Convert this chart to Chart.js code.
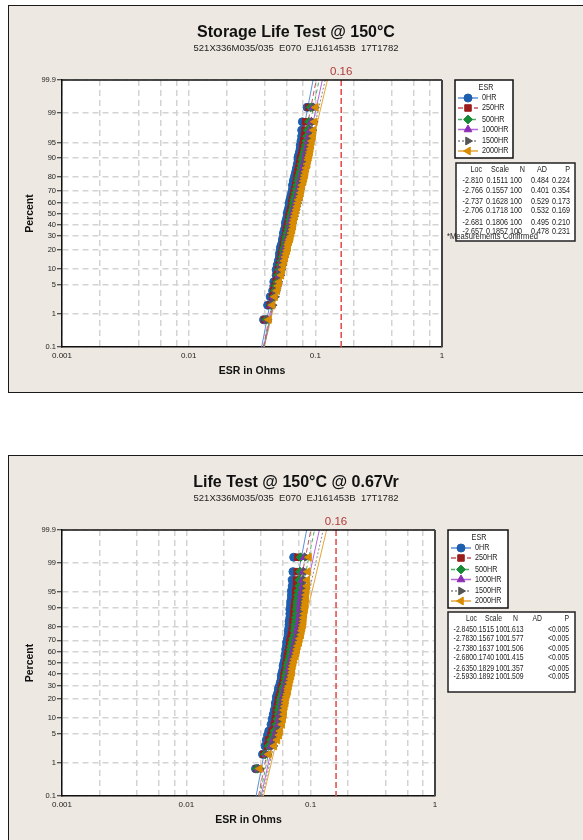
<!DOCTYPE html>
<html>
<head>
<meta charset="utf-8">
<script src="https://cdn.jsdelivr.net/npm/chart.js@4.4.1/dist/chart.umd.min.js"></script>
<style>
  html, body { margin: 0; padding: 0; background: #fff; width: 583px; height: 840px; overflow: hidden; }
  .panel { position: absolute; left: 8px; width: 600px; background: #ede9e2; border: 1px solid #1a1a1a; }
  #p1 { top: 5px; height: 386px; }
  #p2 { top: 455px; height: 400px; }
  .panel canvas { position: absolute; left: 0; top: 0; }
</style>
</head>
<body>
<div class="panel" id="p1"><canvas id="c1" width="574" height="386"></canvas></div>
<div class="panel" id="p2"><canvas id="c2" width="574" height="384"></canvas></div>
<script>
// ---- data ----
const SERIES = ["0HR", "250HR", "500HR", "1000HR", "1500HR", "2000HR"];
// plotting positions (percent) of the plotted ranks
const PERCENT = [0.70, 1.69, 2.69, 3.69, 4.68, 5.68, 7.67, 9.66, 11.65, 13.65,
                 15.64, 17.63, 19.62, 21.61, 23.61, 25.60, 27.59, 29.58, 32.57, 35.56,
                 38.55, 41.53, 44.52, 47.51, 50.50, 53.49, 56.47, 59.46, 62.45, 65.44,
                 68.43, 71.41, 74.40, 77.39, 79.38, 81.37, 83.37, 85.36, 87.35, 89.34,
                 90.34, 91.33, 92.33, 93.33, 94.32, 95.32, 96.31, 97.31, 98.31, 99.30];
const PCT_TICKS = [0.1, 1, 5, 10, 20, 30, 40, 50, 60, 70, 80, 90, 95, 99, 99.9];
const X_TICKS = [0.001, 0.002, 0.004, 0.006, 0.008, 0.01, 0.02, 0.04, 0.06, 0.08,
                 0.1, 0.2, 0.4, 0.6, 0.8, 1];
const X_LABELS = { 0.001: "0.001", 0.01: "0.01", 0.1: "0.1", 1: "1" };
const FIT_PCT = [0.1, 99.9];
const LIMIT = 0.16;
const SUBTITLE = "521X336M035/035  E070  EJ161453B  17T1782";

// Storage Life Test @ 150°C
const esr1_0    = [0.039,0.042,0.044,0.046,0.047,0.047,0.049,0.049,0.050,0.051,0.052,0.052,0.053,0.053,0.054,0.055,0.055,0.056,0.056,0.057,0.058,0.058,0.059,0.060,0.060,0.061,0.062,0.062,0.063,0.064,0.065,0.066,0.066,0.067,0.068,0.069,0.070,0.071,0.072,0.073,0.073,0.074,0.075,0.076,0.076,0.077,0.078,0.078,0.079,0.086];
const esr1_250  = [0.040,0.044,0.046,0.047,0.048,0.049,0.050,0.051,0.052,0.053,0.054,0.054,0.055,0.056,0.056,0.057,0.057,0.058,0.059,0.059,0.060,0.061,0.062,0.062,0.063,0.064,0.065,0.065,0.066,0.067,0.068,0.069,0.070,0.071,0.072,0.072,0.073,0.074,0.075,0.076,0.077,0.078,0.079,0.080,0.080,0.081,0.082,0.083,0.084,0.089];
const esr1_500  = [0.041,0.045,0.047,0.048,0.049,0.050,0.051,0.052,0.053,0.054,0.055,0.056,0.056,0.057,0.058,0.058,0.059,0.059,0.060,0.061,0.062,0.063,0.063,0.064,0.065,0.066,0.067,0.067,0.068,0.069,0.070,0.071,0.072,0.073,0.074,0.075,0.076,0.077,0.078,0.079,0.080,0.081,0.082,0.083,0.084,0.085,0.086,0.087,0.089,0.092];
const esr1_1000 = [0.042,0.045,0.047,0.049,0.050,0.051,0.052,0.053,0.054,0.055,0.056,0.057,0.058,0.058,0.059,0.060,0.060,0.061,0.062,0.063,0.064,0.064,0.065,0.066,0.067,0.068,0.069,0.070,0.071,0.072,0.073,0.074,0.075,0.076,0.077,0.078,0.079,0.080,0.081,0.083,0.084,0.084,0.085,0.086,0.087,0.088,0.089,0.091,0.093,0.096];
const esr1_1500 = [0.042,0.046,0.048,0.049,0.050,0.051,0.053,0.054,0.055,0.056,0.057,0.058,0.059,0.059,0.060,0.061,0.061,0.062,0.063,0.064,0.065,0.066,0.067,0.068,0.069,0.070,0.071,0.072,0.073,0.074,0.075,0.076,0.077,0.078,0.079,0.080,0.082,0.083,0.084,0.085,0.086,0.087,0.088,0.089,0.090,0.091,0.093,0.095,0.097,0.099];
const esr1_2000 = [0.043,0.046,0.048,0.050,0.051,0.052,0.054,0.055,0.056,0.057,0.058,0.059,0.060,0.061,0.061,0.062,0.063,0.064,0.065,0.066,0.067,0.067,0.068,0.069,0.070,0.071,0.072,0.073,0.074,0.076,0.077,0.078,0.079,0.081,0.082,0.083,0.084,0.085,0.087,0.088,0.089,0.090,0.091,0.092,0.093,0.094,0.096,0.097,0.099,0.101];
const fitLow1  = [0.0377, 0.0389, 0.0392, 0.0393, 0.0392, 0.0395];
const fitHigh1 = [0.0960, 0.1017, 0.1071, 0.1136, 0.1197, 0.1246];
const loc1   = [-2.810, -2.766, -2.737, -2.706, -2.681, -2.657];
const scale1 = [0.1511, 0.1557, 0.1628, 0.1718, 0.1806, 0.1857];
const n1     = [100, 100, 100, 100, 100, 100];
const ad1    = [0.484, 0.401, 0.529, 0.532, 0.495, 0.478];
const pval1  = ["0.224", "0.354", "0.173", "0.169", "0.210", "0.231"];

// Life Test @ 150°C @ 0.67Vr
const esr2_0    = [0.036,0.041,0.043,0.044,0.045,0.046,0.048,0.049,0.050,0.051,0.052,0.052,0.053,0.053,0.054,0.055,0.055,0.056,0.057,0.058,0.058,0.059,0.060,0.060,0.061,0.062,0.062,0.063,0.063,0.064,0.064,0.065,0.066,0.066,0.067,0.067,0.067,0.068,0.068,0.068,0.069,0.069,0.069,0.070,0.070,0.070,0.071,0.071,0.072,0.073];
const esr2_250  = [0.037,0.042,0.045,0.046,0.048,0.049,0.051,0.052,0.053,0.053,0.054,0.055,0.055,0.056,0.057,0.058,0.058,0.059,0.060,0.061,0.061,0.062,0.063,0.063,0.064,0.065,0.065,0.066,0.067,0.068,0.068,0.069,0.070,0.071,0.072,0.072,0.072,0.073,0.073,0.074,0.074,0.075,0.075,0.076,0.076,0.076,0.077,0.077,0.078,0.079];
const esr2_500  = [0.037,0.043,0.046,0.048,0.050,0.051,0.053,0.054,0.055,0.055,0.056,0.057,0.057,0.058,0.059,0.060,0.060,0.061,0.062,0.063,0.063,0.064,0.065,0.065,0.066,0.067,0.068,0.069,0.069,0.070,0.071,0.072,0.074,0.074,0.075,0.075,0.076,0.076,0.077,0.077,0.078,0.078,0.078,0.079,0.079,0.080,0.081,0.081,0.082,0.083];
const esr2_1000 = [0.038,0.044,0.048,0.050,0.052,0.053,0.055,0.056,0.057,0.058,0.059,0.059,0.060,0.060,0.061,0.062,0.062,0.063,0.064,0.065,0.066,0.067,0.067,0.068,0.069,0.070,0.071,0.072,0.073,0.074,0.075,0.076,0.078,0.078,0.079,0.080,0.081,0.081,0.082,0.082,0.083,0.083,0.083,0.084,0.084,0.085,0.086,0.086,0.087,0.089];
const esr2_1500 = [0.039,0.045,0.050,0.052,0.054,0.055,0.057,0.058,0.059,0.059,0.060,0.061,0.061,0.062,0.063,0.064,0.064,0.065,0.066,0.067,0.068,0.069,0.069,0.070,0.071,0.072,0.074,0.075,0.075,0.076,0.078,0.079,0.081,0.082,0.083,0.084,0.084,0.085,0.085,0.086,0.086,0.087,0.087,0.088,0.088,0.089,0.090,0.090,0.091,0.093];
const esr2_2000 = [0.039,0.046,0.051,0.054,0.056,0.057,0.059,0.060,0.061,0.061,0.062,0.063,0.063,0.064,0.065,0.066,0.066,0.067,0.068,0.069,0.070,0.071,0.071,0.072,0.073,0.074,0.076,0.077,0.078,0.079,0.081,0.082,0.084,0.085,0.086,0.087,0.088,0.088,0.089,0.090,0.090,0.091,0.091,0.092,0.092,0.093,0.094,0.094,0.095,0.097];
const fitLow2  = [0.0364, 0.0381, 0.0390, 0.0400, 0.0408, 0.0417];
const fitHigh2 = [0.0928, 0.1003, 0.1073, 0.1174, 0.1262, 0.1343];
const loc2   = [-2.845, -2.783, -2.738, -2.680, -2.635, -2.593];
const scale2 = [0.1515, 0.1567, 0.1637, 0.1740, 0.1829, 0.1892];
const n2     = [100, 100, 100, 100, 100, 100];
const ad2    = [1.613, 1.577, 1.506, 1.415, 1.357, 1.509];
const pval2  = ["<0.005", "<0.005", "<0.005", "<0.005", "<0.005", "<0.005"];

// ---- styles ----
const STYLE = [
  { color: "#1d5fae", line: "#5b91d4", shape: "circle",   rot: 0,   r: 4,   dash: [] },
  { color: "#9c1c1c", line: "#c4545a", shape: "rect",     rot: 0,   r: 4.6, dash: [5, 3] },
  { color: "#178a35", line: "#4cae62", shape: "rectRot",  rot: 0,   r: 4.4, dash: [4, 3] },
  { color: "#8a2db5", line: "#b566d6", shape: "triangle", rot: 0,   r: 4.5, dash: [] },
  { color: "#555555", line: "#8a8a8a", shape: "triangle", rot: 90,  r: 4.5, dash: [2, 2] },
  { color: "#d98c00", line: "#e6a43a", shape: "triangle", rot: -90, r: 4.5, dash: [] }
];
const SANS = '"Liberation Sans", sans-serif';
Chart.defaults.font.family = SANS;
Chart.defaults.color = "#222";

// inverse normal CDF (probability axis)
function probit(p) {
  const a = [-3.969683028665376e+01, 2.209460984245205e+02, -2.759285104469687e+02, 1.383577518672690e+02, -3.066479806614716e+01, 2.506628277459239e+00];
  const b = [-5.447609879822406e+01, 1.615858368580409e+02, -1.556989798598866e+02, 6.680131188771972e+01, -1.328068155288572e+01];
  const c = [-7.784894002430293e-03, -3.223964580411365e-01, -2.400758277161838e+00, -2.549671348021838e+00, 4.374664141464968e+00, 2.938163982698783e+00];
  const d = [7.784695709041462e-03, 3.224671290700398e-01, 2.445134137142996e+00, 3.754408661907416e+00];
  const pl = 0.02425;
  let q, r;
  if (p < pl) {
    q = Math.sqrt(-2 * Math.log(p));
    return (((((c[0]*q+c[1])*q+c[2])*q+c[3])*q+c[4])*q+c[5]) / ((((d[0]*q+d[1])*q+d[2])*q+d[3])*q+1);
  }
  if (p > 1 - pl) {
    q = Math.sqrt(-2 * Math.log(1 - p));
    return -(((((c[0]*q+c[1])*q+c[2])*q+c[3])*q+c[4])*q+c[5]) / ((((d[0]*q+d[1])*q+d[2])*q+d[3])*q+1);
  }
  q = p - 0.5; r = q * q;
  return (((((a[0]*r+a[1])*r+a[2])*r+a[3])*r+a[4])*r+a[5])*q / (((((b[0]*r+b[1])*r+b[2])*r+b[3])*r+b[4])*r+1);
}
const Y_MIN = probit(0.001), Y_MAX = probit(0.999);

function buildDatasets(esr, fitLow, fitHigh) {
  const ds = [];
  SERIES.forEach((name, i) => {
    ds.push({
      label: name + " fit", showLine: true, pointRadius: 0, order: 20,
      data: [{ x: fitLow[i], y: probit(FIT_PCT[0] / 100) }, { x: fitHigh[i], y: probit(FIT_PCT[1] / 100) }],
      borderColor: STYLE[i].line, borderWidth: 1, borderDash: STYLE[i].dash
    });
  });
  SERIES.forEach((name, i) => {
    ds.push({
      label: name, order: 6 - i,
      data: esr[i].map((v, k) => ({ x: v, y: probit(PERCENT[k] / 100) })),
      pointStyle: STYLE[i].shape, pointRotation: STYLE[i].rot, pointRadius: STYLE[i].r,
      backgroundColor: STYLE[i].color, borderColor: STYLE[i].color, borderWidth: 1
    });
  });
  return ds;
}

// condensed text (the original uses a narrow UI font)
function narrow(ctx, t, x, y, k) {
  ctx.fillText(t, x, y, ctx.measureText(t).width * (k || 0.8));
}

function drawLegend(ctx, box) {
  const rows = [18, 28, 39.5, 49.5, 61, 71];
  ctx.save();
  ctx.fillStyle = "#fff"; ctx.fillRect(box.x, box.y, box.w, box.h);
  ctx.strokeStyle = "#111"; ctx.lineWidth = 1.5; ctx.strokeRect(box.x, box.y, box.w, box.h);
  ctx.font = "9px " + SANS; ctx.textBaseline = "middle";
  ctx.fillStyle = "#222"; ctx.textAlign = "center";
  narrow(ctx, "ESR", box.x + 31, box.y + 8);
  ctx.textAlign = "left";
  SERIES.forEach((name, i) => {
    const st = STYLE[i], y = box.y + rows[i];
    ctx.strokeStyle = st.line; ctx.lineWidth = 1.5; ctx.setLineDash(st.dash);
    ctx.beginPath(); ctx.moveTo(box.x + 3, y); ctx.lineTo(box.x + 23, y); ctx.stroke();
    ctx.setLineDash([]);
    ctx.fillStyle = st.color; ctx.strokeStyle = st.color; ctx.lineWidth = 1;
    Chart.helpers.drawPoint(ctx, { pointStyle: st.shape, radius: st.r, rotation: st.rot, borderWidth: 1 }, box.x + 13, y);
    ctx.fillStyle = "#222";
    narrow(ctx, name, box.x + 27, y);
  });
  ctx.restore();
}

function drawStats(ctx, box, cols, st, k) {
  ctx.save();
  ctx.fillStyle = "#fff"; ctx.fillRect(box.x, box.y, box.w, box.h);
  ctx.strokeStyle = "#222"; ctx.lineWidth = 1.5; ctx.strokeRect(box.x, box.y, box.w, box.h);
  ctx.font = "9px " + SANS; ctx.textBaseline = "middle"; ctx.textAlign = "right";
  ctx.fillStyle = "#222";
  ["Loc", "Scale", "N", "AD", "P"].forEach((h, j) => narrow(ctx, h, box.x + cols.head[j], box.y + 7, k));
  SERIES.forEach((_, i) => {
    const cells = [st.loc[i].toFixed(3), st.scale[i].toFixed(4), String(st.n[i]), st.ad[i].toFixed(3), st.p[i]];
    cells.forEach((t, j) => narrow(ctx, t, box.x + cols.val[j], box.y + cols.rows[i], k));
  });
  ctx.restore();
}

function overlay(o) {
  return {
    id: "overlay",
    beforeDraw(chart) {
      const { ctx, chartArea: a } = chart;
      ctx.save(); ctx.fillStyle = "#fff";
      ctx.fillRect(a.left, a.top, a.right - a.left, a.bottom - a.top);
      ctx.restore();
    },
    afterDatasetsDraw(chart) {
      const { ctx, chartArea: a, scales: { x } } = chart;
      const px = x.getPixelForValue(LIMIT);
      ctx.save();
      ctx.strokeStyle = "#e04848"; ctx.lineWidth = 1.5; ctx.setLineDash([6, 3]);
      ctx.beginPath(); ctx.moveTo(px, a.top); ctx.lineTo(px, a.bottom); ctx.stroke();
      ctx.setLineDash([]);
      ctx.fillStyle = "#b03a38"; ctx.font = "11.5px " + SANS;
      ctx.textAlign = "center"; ctx.textBaseline = "middle";
      ctx.fillText(String(LIMIT), px, a.top - 8);
      ctx.strokeStyle = "#111"; ctx.lineWidth = 1.5;
      ctx.beginPath(); ctx.moveTo(a.left, a.top); ctx.lineTo(a.right, a.top); ctx.stroke();
      ctx.strokeStyle = "#444"; ctx.lineWidth = 2;
      ctx.beginPath(); ctx.moveTo(a.right, a.top); ctx.lineTo(a.right, a.bottom); ctx.stroke();
      ctx.restore();
    },
    afterDraw(chart) {
      const ctx = chart.ctx;
      drawLegend(ctx, o.legendBox);
      drawStats(ctx, o.statsBox, o.cols, o.stats, o.squeeze);
      if (o.note) {
        ctx.save();
        ctx.font = "9px " + SANS; ctx.fillStyle = "#222";
        ctx.textAlign = "left"; ctx.textBaseline = "middle";
        narrow(ctx, o.note, o.noteX, o.noteY, 0.85);
        ctx.restore();
      }
    }
  };
}

function makeChart(id, o) {
  return new Chart(document.getElementById(id), {
    type: "scatter",
    data: { datasets: buildDatasets(o.esr, o.fitLow, o.fitHigh) },
    options: {
      responsive: false, animation: false, events: [],
      layout: { padding: 0 },
      plugins: {
        legend: { display: false },
        tooltip: { enabled: false },
        title: {
          display: true, text: o.title, color: "#111",
          font: { size: 16, weight: "bold", lineHeight: 1 },
          padding: { top: 19, bottom: 0 }
        },
        subtitle: {
          display: true, text: SUBTITLE, color: "#222",
          font: { size: 9.5, lineHeight: 1 },
          padding: { top: 2.5, bottom: 27 }
        }
      },
      scales: {
        x: {
          type: "logarithmic", min: 0.001, max: 1,
          afterBuildTicks: (s) => { s.ticks = X_TICKS.map(v => ({ value: v })); },
          afterFit: (s) => { s.height = o.xHeight; },
          ticks: {
            autoSkip: false, maxRotation: 0, padding: 4, color: "#222",
            font: { size: 8 },
            callback: (v) => X_LABELS[v] || ""
          },
          grid: { color: "#d3d3d3", lineWidth: 1.5, drawTicks: false },
          border: { display: true, color: "#111", width: 1.5, dash: [6, 4] },
          title: {
            display: true, text: "ESR in Ohms", color: "#111",
            font: { size: 10.5, weight: "bold" },
            padding: { top: 0, bottom: o.xTitlePad }
          }
        },
        y: {
          type: "linear", min: Y_MIN, max: Y_MAX,
          afterBuildTicks: (s) => { s.ticks = PCT_TICKS.map(p => ({ value: probit(p / 100) })); },
          afterFit: (s) => { s.width = 53; },
          ticks: {
            autoSkip: false, padding: 1, color: "#222",
            font: { size: 7.5 },
            callback: (v, i) => String(PCT_TICKS[i])
          },
          grid: { color: "#d3d3d3", lineWidth: 1.5, tickLength: 5, tickWidth: 1, tickColor: "#222" },
          border: { display: true, color: "#111", width: 1.5, dash: [6, 4] },
          title: {
            display: true, text: "Percent", color: "#111",
            font: { size: 10.5, weight: "bold" },
            padding: { top: 14.7, bottom: 0 }
          }
        },
        spacer: {
          type: "linear", position: "right", display: true,
          ticks: { display: false }, grid: { display: false }, border: { display: false },
          afterFit: (s) => { s.width = o.rightSpace; }
        }
      }
    },
    plugins: [overlay(o)]
  });
}

makeChart("c1", {
  title: "Storage Life Test @ 150°C",
  esr: [esr1_0, esr1_250, esr1_500, esr1_1000, esr1_1500, esr1_2000],
  fitLow: fitLow1, fitHigh: fitHigh1,
  xHeight: 45, xTitlePad: 14.7, rightSpace: 141,
  legendBox: { x: 446, y: 74, w: 58, h: 78 },
  statsBox: { x: 447, y: 157, w: 119, h: 78 },
  cols: { head: [26, 53, 69, 91, 114], val: [27, 52, 66, 93, 114], rows: [18, 28, 39, 48, 60, 69] },
  squeeze: 0.8,
  stats: { loc: loc1, scale: scale1, n: n1, ad: ad1, p: pval1 },
  note: "*Measurements Confirmed", noteX: 438, noteY: 231
});

makeChart("c2", {
  title: "Life Test @ 150°C @ 0.67Vr",
  esr: [esr2_0, esr2_250, esr2_500, esr2_1000, esr2_1500, esr2_2000],
  fitLow: fitLow2, fitHigh: fitHigh2,
  xHeight: 44, xTitlePad: 13.7, rightSpace: 148,
  legendBox: { x: 439, y: 74, w: 60, h: 78 },
  statsBox: { x: 439, y: 156, w: 127, h: 80 },
  cols: { head: [29, 54, 70, 94, 121], val: [25, 46, 59, 75.5, 121], rows: [18, 26.5, 37, 45.5, 56.5, 65] },
  squeeze: 0.76,
  stats: { loc: loc2, scale: scale2, n: n2, ad: ad2, p: pval2 }
});
</script>
</body>
</html>
